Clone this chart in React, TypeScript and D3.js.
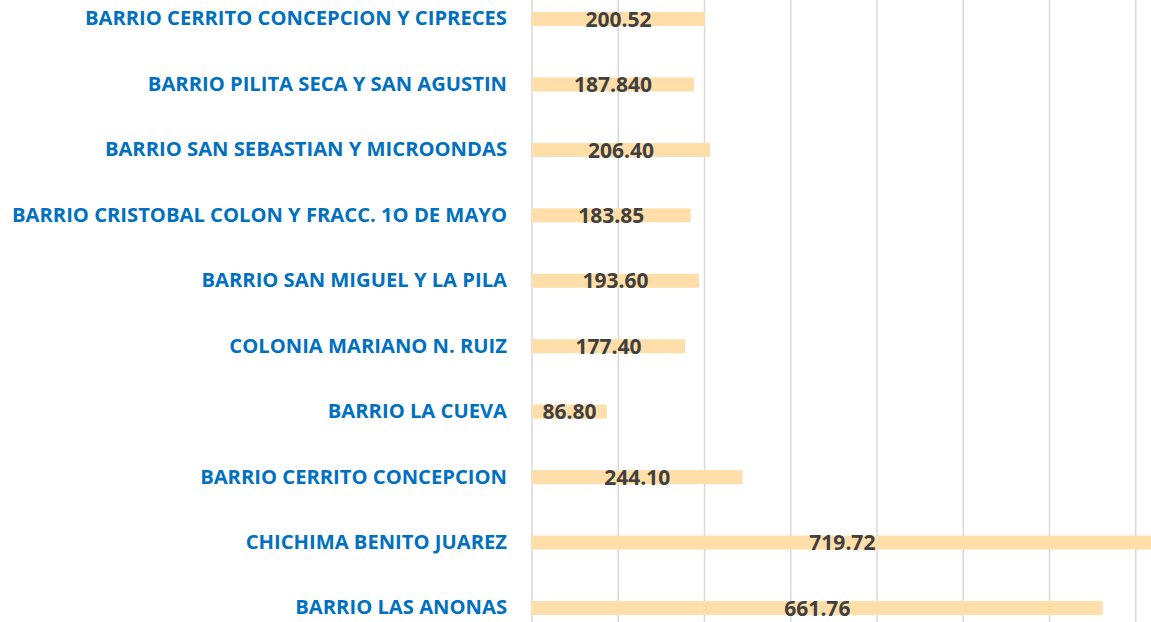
import React, { useRef, useEffect } from "react";
import * as d3 from "d3";

const categories = [
  "BARRIO CERRITO CONCEPCION Y CIPRECES",
  "BARRIO PILITA SECA Y SAN AGUSTIN",
  "BARRIO SAN SEBASTIAN Y MICROONDAS",
  "BARRIO CRISTOBAL COLON Y FRACC. 1O DE MAYO",
  "BARRIO SAN MIGUEL Y LA PILA",
  "COLONIA MARIANO N. RUIZ",
  "BARRIO LA CUEVA",
  "BARRIO CERRITO CONCEPCION",
  "CHICHIMA BENITO JUAREZ",
  "BARRIO LAS ANONAS",
];
const values = [200.52, 187.84, 206.4, 183.85, 193.6, 177.4, 86.8, 244.1, 719.72, 661.76];
const valueLabels = ["200.52", "187.840", "206.40", "183.85", "193.60", "177.40", "86.80", "244.10", "719.72", "661.76"];
const ticks = [0, 100, 200, 300, 400, 500, 600, 700, 800];

const W = 1151;
const H = 622;
const FONT = "'Open Sans', sans-serif";

const App = () => {
  const ref = useRef<SVGSVGElement>(null);

  useEffect(() => {
    const svg = d3.select(ref.current);
    svg.selectAll("*").remove();

    const x = d3.scaleLinear().domain([0, 800]).range([532, 532 + 8 * 86.25]);
    const y = d3.scalePoint().domain(categories).range([19, 608]);
    const barH = 14;

    // gridlines
    svg
      .append("g")
      .selectAll("line")
      .data(ticks)
      .enter()
      .append("line")
      .attr("x1", (d) => x(d))
      .attr("x2", (d) => x(d))
      .attr("y1", 0)
      .attr("y2", H)
      .attr("stroke", "#d9d9d9")
      .attr("stroke-width", 1.5);

    const rows = svg
      .append("g")
      .selectAll("g")
      .data(categories)
      .enter()
      .append("g");

    rows
      .append("rect")
      .attr("x", x(0))
      .attr("y", (d) => y(d)! - barH / 2)
      .attr("width", (d, i) => x(values[i]) - x(0))
      .attr("height", barH)
      .attr("fill", "#ffdeaa");

    rows
      .append("text")
      .attr("x", 507)
      .attr("y", (d) => y(d)! + 1)
      .attr("text-anchor", "end")
      .attr("dominant-baseline", "middle")
      .attr("font-family", FONT)
      .attr("font-weight", 700)
      .attr("font-size", 20.2)
      .attr("fill", "#0070c0")
      .text((d) => d);

    rows
      .append("text")
      .attr("x", (d, i) => (x(0) + x(values[i])) / 2)
      .attr("y", (d) => y(d)! + 2)
      .attr("text-anchor", "middle")
      .attr("dominant-baseline", "middle")
      .attr("font-family", FONT)
      .attr("font-weight", 700)
      .attr("font-size", 21)
      .attr("fill", "#404040")
      .text((d, i) => valueLabels[i]);
  }, []);

  return (
    <svg
      ref={ref}
      width={W}
      height={H}
      style={{ position: "absolute", left: 0, top: 0, background: "#fff" }}
    />
  );
};

export default App;
